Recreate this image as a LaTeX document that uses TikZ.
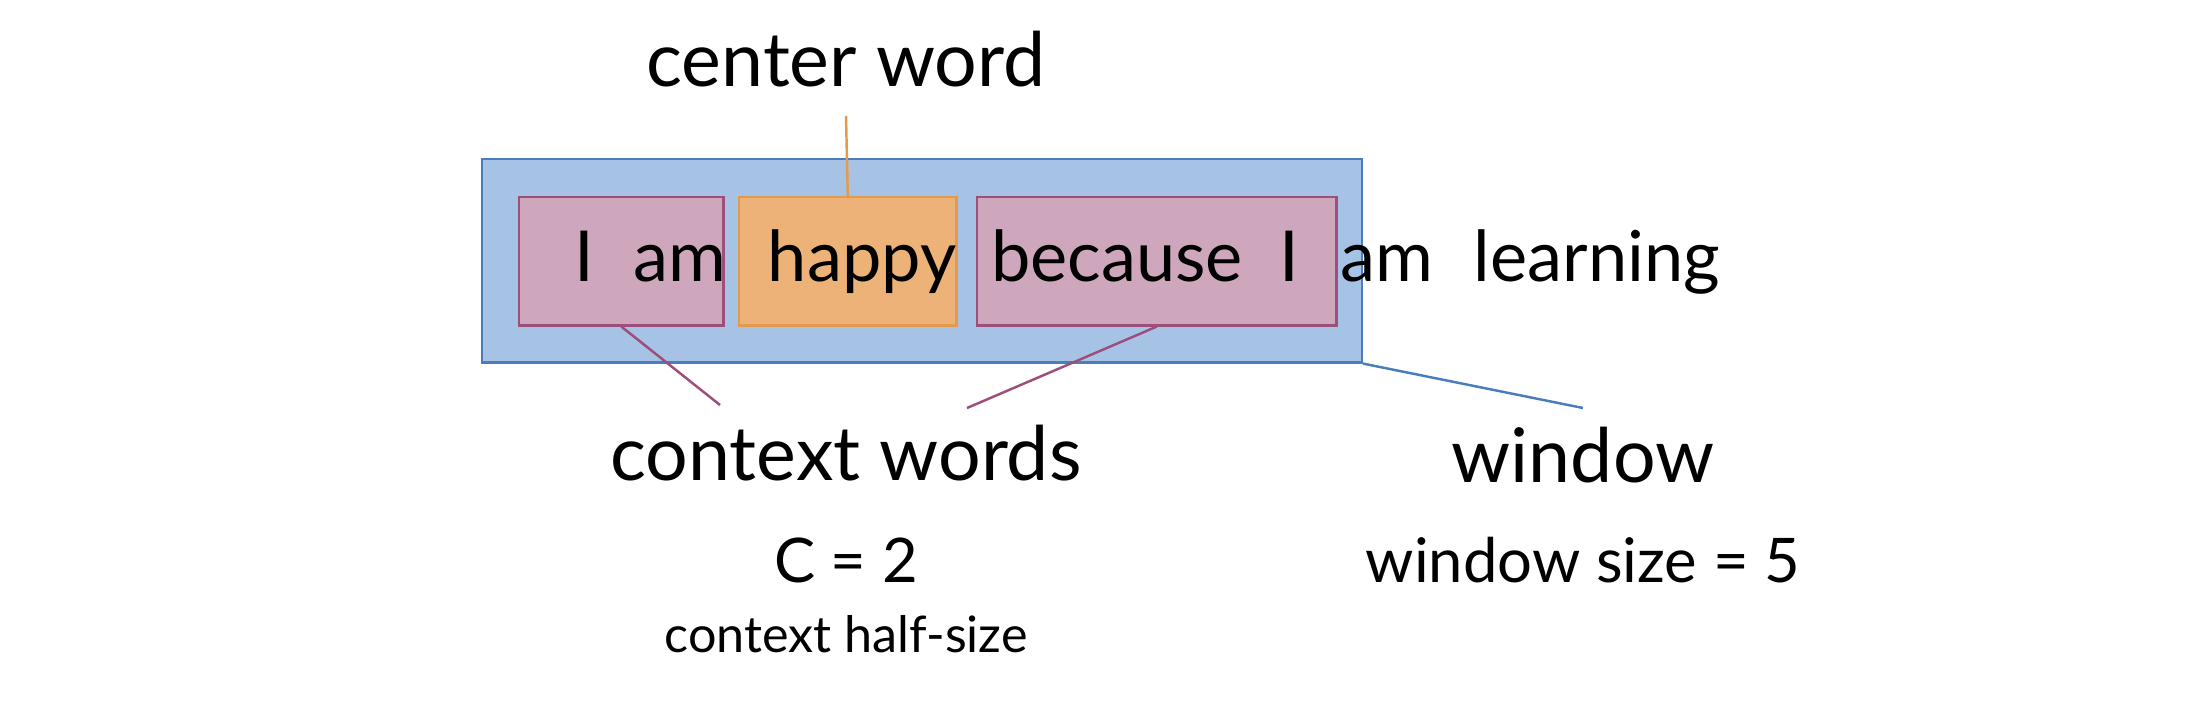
\documentclass[tikz,border=0pt]{standalone}
\usepackage{fontspec}
\setmainfont{Lato}
\definecolor{winfill}{HTML}{A6C3E5}
\definecolor{windraw}{HTML}{4A7EBB}
\definecolor{ctxfill}{HTML}{CFA7BD}
\definecolor{ctxdraw}{HTML}{9B4F7A}
\definecolor{cenfill}{HTML}{EDB277}
\definecolor{cendraw}{HTML}{E39A4C}
\begin{document}
\begin{tikzpicture}[x=0.01cm,y=-0.01cm,
  box/.style={draw=#1,line width=0.7pt,inner sep=0pt,anchor=north west},
  word/.style={anchor=base,inner sep=0pt,font=\fontsize{20}{24}\selectfont},
  biglabel/.style={anchor=base,inner sep=0pt,font=\fontsize{21.4}{26}\selectfont},
  midlabel/.style={anchor=base,inner sep=0pt,font=\fontsize{17.5}{21}\selectfont},
  smalllabel/.style={anchor=base,inner sep=0pt,font=\fontsize{14.3}{17}\selectfont}]
\useasboundingbox (0,0) rectangle (2212,706);
% window and the three boxes
\node[box=windraw,fill=winfill,minimum width=8.79cm,minimum height=2.03cm] (window) at (481,158) {};
\node[box=ctxdraw,fill=ctxfill,minimum width=2.04cm,minimum height=1.28cm] (ctxleft) at (518,196) {};
\node[box=cendraw,fill=cenfill,minimum width=2.17cm,minimum height=1.28cm] (center) at (738,196) {};
\node[box=ctxdraw,fill=ctxfill,minimum width=3.59cm,minimum height=1.28cm] (ctxright) at (976,196) {};
% the sentence
\node[word] (w1) at (584,281) {I};
\node[word] (w2) at (680,281) {am};
\node[word] (w3) at (862,281) {happy};
\node[word] (w4) at (1117,281) {because};
\node[word] (w5) at (1289,281) {I};
\node[word] (w6) at (1387,281) {am};
\node[word] (w7) at (1597,281) {learning};
% labels
\node[biglabel] (centerlbl) at (846,87) {center word};
\node[biglabel] (ctxlbl) at (846,480) {context words};
\node[midlabel] (clbl) at (846,582) {C = 2};
\node[smalllabel] (halflbl) at (846,652) {context half-size};
\node[biglabel] (winlbl) at (1583,482) {window};
\node[midlabel] (sizelbl) at (1583,582) {window size = 5};
% pointers
\coordinate (ctop) at (846,116);
\coordinate (lend) at (720,405);
\coordinate (rend) at (967,408);
\coordinate (wend) at (1583,408);
\draw[cendraw,line width=0.7pt] (center.north) -- (ctop);
\draw[ctxdraw,line width=0.7pt] (ctxleft.south) -- (lend);
\draw[ctxdraw,line width=0.7pt] (ctxright.south) -- (rend);
\draw[windraw,line width=0.7pt] (window.south east) -- (wend);
\end{tikzpicture}
\end{document}
